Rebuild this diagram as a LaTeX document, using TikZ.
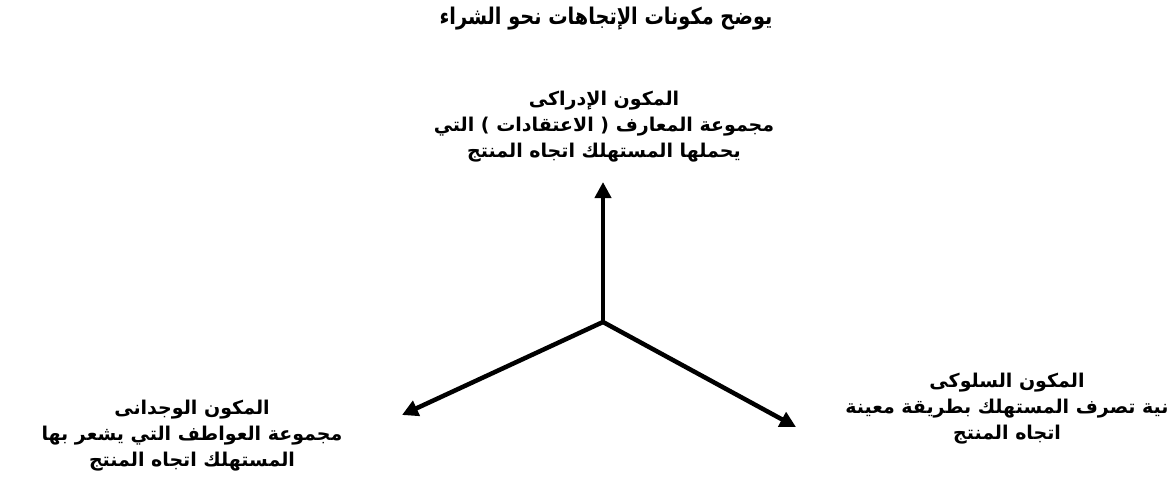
\documentclass[tikz,border=0pt]{standalone}
\usepackage{fontspec}
\TeXXeTstate=1
\newfontfamily\arabicfont[Script=Arabic]{DejaVu Sans}
\newfontfamily\arabictitle[Script=Arabic,FakeStretch=0.84]{DejaVu Sans}
\usetikzlibrary{arrows.meta}
\begin{document}
\begin{tikzpicture}[x=1pt,y=-1pt,
  lbl/.style={font=\arabicfont\bfseries\fontsize{19}{26}\selectfont, align=center, inner sep=0pt},
  ttl/.style={font=\arabictitle\bfseries\fontsize{23}{26}\selectfont, inner sep=0pt},
  vec/.style={line width=4.5pt, -{Triangle[length=16pt,width=16pt]}}]
\useasboundingbox (0,0) rectangle (1174,492);
\node[ttl] (title) at (606,19) {\beginR يوضح مكونات الإتجاهات نحو الشراء\endR};
\node[lbl] (top) at (604,127) {\beginR المكون الإدراكى\endR\\\beginR مجموعة المعارف ( الاعتقادات ) التي\endR\\\beginR يحملها المستهلك اتجاه المنتج\endR};
\node[lbl] (left) at (192,436) {\beginR المكون الوجدانى\endR\\\beginR مجموعة العواطف التي يشعر بها\endR\\\beginR المستهلك اتجاه المنتج\endR};
\node[lbl] (right) at (1007,409) {\beginR المكون السلوكى\endR\\\beginR نية تصرف المستهلك بطريقة معينة\endR\\\beginR اتجاه المنتج\endR};
\coordinate (c) at (603,322);
\coordinate (tu) at (603,182);
\coordinate (tl) at (402,415);
\coordinate (tr) at (796,427);
\draw[vec] (c) -- (tu);
\draw[vec] (c) -- (tl);
\draw[vec] (c) -- (tr);
\end{tikzpicture}
\end{document}
